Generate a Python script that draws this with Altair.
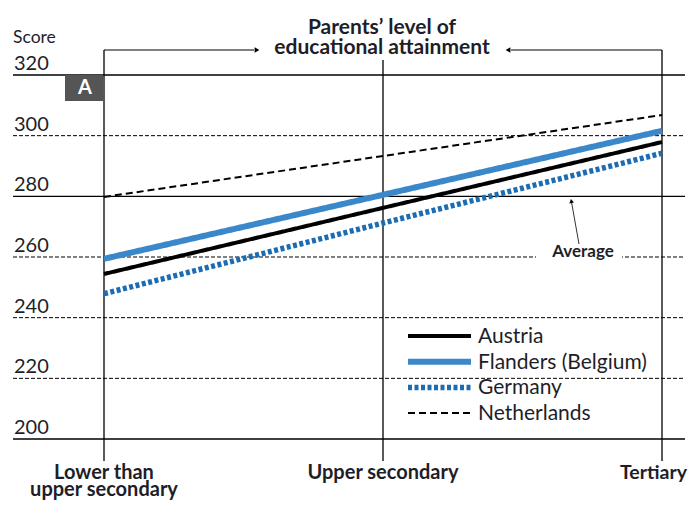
import altair as alt
import pandas as pd

# ---------------- data ----------------
levels = ["Lower than\nupper secondary", "Upper secondary", "Tertiary"]
countries = ["Austria", "Flanders (Belgium)", "Germany", "Netherlands"]
austria = [254.4, 276.2, 297.9]
flanders = [259.4, 280.5, 301.6]
germany = [247.9, 271.2, 294.2]
netherlands = [279.8, 293.3, 306.8]
y_ticks = [320, 300, 280, 260, 240, 220, 200]
solid_ticks = [320, 280, 200]
title_text = "Parents’ level of\neducational attainment"
y_title = "Score"
panel_label = "A"
average_label = "Average"

# ---------------- styles ----------------
colors = ["#000000", "#3a88c9", "#1c6cb4", "#000000"]
widths = [4, 6, 5.5, 2]
dashes = [[1, 0], [1, 0], [4, 2.5], [7, 4]]
FONT = "Lato"
TXT = "#1e1e28"

# ---------------- layout ----------------
W, H = 680, 492
X0, X2 = 96, 654          # pixel x of first / last level
Y320, Y200 = 67, 431      # pixel y of 320 / 200
ppu_y = (Y200 - Y320) / 120.0
ppu_x = (X2 - X0) / 2.0
x_dom = [-X0 / ppu_x, (W - X0) / ppu_x]
y_dom = [200 - (H - Y200) / ppu_y, 320 + Y320 / ppu_y]
xs = alt.Scale(domain=x_dom, nice=False, zero=False)
ys = alt.Scale(domain=y_dom, nice=False, zero=False)


def score_at(py):
    return 320 - (py - Y320) / ppu_y


series = [austria, flanders, germany, netherlands]
lines_df = pd.DataFrame(
    [{"country": c, "idx": i, "score": v, "col": colors[k], "w": widths[k], "dash": dashes[k]}
     for k, (c, vals) in enumerate(zip(countries, series)) for i, v in enumerate(vals)]
)
levels_df = pd.DataFrame({"idx": list(range(len(levels))), "label": levels})
grid_df = pd.DataFrame({"score": y_ticks,
                        "solid": [t in solid_ticks for t in y_ticks]})
one = pd.DataFrame({"k": [0]})

color_enc = alt.Color("col:N", scale=None)
dash_enc = alt.StrokeDash("dash", scale=None)
width_enc = alt.StrokeWidth("w:Q", scale=None)

# grid lines
grid_solid = alt.Chart(grid_df).transform_filter("datum.solid").mark_rule(
    color="#000", strokeWidth=1.3
).encode(x=alt.value(5), x2=alt.value(677), y=alt.Y("score:Q", scale=ys, axis=None))
grid_dash = alt.Chart(grid_df).transform_filter("!datum.solid").mark_rule(
    color="#000", strokeWidth=1, strokeDash=[4, 2]
).encode(x=alt.value(5), x2=alt.value(677), y=alt.Y("score:Q", scale=ys, axis=None))

tick_labels = alt.Chart(grid_df).mark_text(
    align="left", baseline="alphabetic", dy=-5, font=FONT, fontSize=20, color=TXT
).encode(x=alt.value(6), y=alt.Y("score:Q", scale=ys, axis=None), text="score:Q")

score_lbl = alt.Chart(pd.DataFrame({"t": [y_title]})).mark_text(
    align="left", baseline="alphabetic", font=FONT, fontSize=17.5, color=TXT
).encode(x=alt.value(5), y=alt.value(35), text="t:N")

# vertical lines at the levels
vert_outer = alt.Chart(levels_df).transform_filter("datum.idx != 1").mark_rule(
    color="#000", strokeWidth=1.3
).encode(x=alt.X("idx:Q", scale=xs, axis=None), y=alt.value(42), y2=alt.value(453))
vert_mid = alt.Chart(levels_df).transform_filter("datum.idx == 1").mark_rule(
    color="#000", strokeWidth=1.3
).encode(x=alt.X("idx:Q", scale=xs, axis=None), y=alt.value(52), y2=alt.value(453))

# top arrows
arrow_l = alt.Chart(one).mark_rule(color="#000", strokeWidth=1.2).encode(
    x=alt.value(X0), x2=alt.value(246), y=alt.value(42))
arrow_r = alt.Chart(one).mark_rule(color="#000", strokeWidth=1.2).encode(
    x=alt.value(X2), x2=alt.value(503), y=alt.value(42))
head_l = alt.Chart(one).mark_point(shape="triangle-right", filled=True, size=30,
                                   color="#000", opacity=1).encode(
    x=alt.value(249), y=alt.value(42))
head_r = alt.Chart(one).mark_point(shape="triangle-left", filled=True, size=30,
                                   color="#000", opacity=1).encode(
    x=alt.value(500), y=alt.value(42))

title = alt.Chart(pd.DataFrame({"t": [title_text]})).mark_text(
    align="center", baseline="alphabetic", font=FONT, fontSize=21, fontWeight="bold",
    color=TXT, lineBreak="\n", lineHeight=20
).encode(x=alt.value(374), y=alt.value(26), text="t:N")

# panel label box
a_box = alt.Chart(one).mark_rect(color="#555555").encode(
    x=alt.value(57), x2=alt.value(95), y=alt.value(67), y2=alt.value(93))
a_txt = alt.Chart(pd.DataFrame({"t": [panel_label]})).mark_text(
    align="center", baseline="middle", font=FONT, fontSize=20, fontWeight="bold", color="#fff"
).encode(x=alt.value(77), y=alt.value(80), text="t:N")

# data lines
lines = alt.Chart(lines_df).mark_line(strokeCap="butt").encode(
    x=alt.X("idx:Q", scale=xs, axis=None),
    y=alt.Y("score:Q", scale=ys, axis=None),
    color=color_enc, strokeDash=dash_enc, strokeWidth=width_enc,
    detail="country:N",
    order=alt.Order("idx:Q"),
)

# "Average" annotation
avg_bg = alt.Chart(one).mark_rect(color="#ffffff").encode(
    x=alt.value(528), x2=alt.value(614), y=alt.value(243), y2=alt.value(256))
avg_txt = alt.Chart(pd.DataFrame({"t": [average_label]})).mark_text(
    align="center", baseline="alphabetic", font=FONT, fontSize=17, fontWeight="bold", color=TXT
).encode(x=alt.value(575), y=alt.value(249), text="t:N")
avg_line = alt.Chart(one).mark_rule(color="#333", strokeWidth=1).encode(
    x=alt.value(571), y=alt.value(236), x2=alt.value(563.5), y2=alt.value(194))
avg_head = alt.Chart(one).mark_point(shape="triangle-up", filled=True, size=22,
                                     color="#000", opacity=1, angle=350).encode(
    x=alt.value(563.3), y=alt.value(193))

# legend (drawn with the same style columns)
legend_df = pd.DataFrame({"country": countries, "row": list(range(len(countries))),
                          "col": colors, "w": widths, "dash": dashes})
legend_df["ys"] = [score_at(328 + 25.7 * r) for r in legend_df["row"]]
leg_rules = alt.Chart(legend_df).mark_rule(strokeCap="butt").encode(
    x=alt.value(400), x2=alt.value(463),
    y=alt.Y("ys:Q", scale=ys, axis=None),
    color=color_enc, strokeDash=dash_enc, strokeWidth=width_enc,
)
leg_text = alt.Chart(legend_df).mark_text(
    align="left", baseline="middle", font=FONT, fontSize=21, color=TXT, dy=1
).encode(x=alt.value(470), y=alt.Y("ys:Q", scale=ys, axis=None), text="country:N")

# x labels
x_labels = alt.Chart(levels_df).transform_filter(f"datum.idx < {len(levels) - 1}").mark_text(
    align="center", baseline="alphabetic", font=FONT, fontSize=20, fontWeight="bold",
    color=TXT, lineBreak="\n", lineHeight=17
).encode(x=alt.X("idx:Q", scale=xs, axis=None), y=alt.value(471), text="label:N")
x_label_last = alt.Chart(levels_df).transform_filter(f"datum.idx == {len(levels) - 1}").mark_text(
    align="right", baseline="alphabetic", font=FONT, fontSize=19.5, fontWeight="bold",
    color=TXT
).encode(x=alt.value(W - 1), y=alt.value(471), text="label:N")

chart = alt.layer(
    grid_solid, grid_dash, tick_labels, score_lbl,
    vert_outer, vert_mid, arrow_l, arrow_r, head_l, head_r, title,
    a_box, a_txt, avg_bg, lines, avg_line, avg_head, avg_txt,
    leg_rules, leg_text, x_labels, x_label_last,
).properties(
    width=W, height=H, padding=0,
    autosize=alt.AutoSizeParams(type="none"),
).configure_view(strokeWidth=0)

chart.save("out.html", embed_options={"renderer": "svg", "actions": False})
